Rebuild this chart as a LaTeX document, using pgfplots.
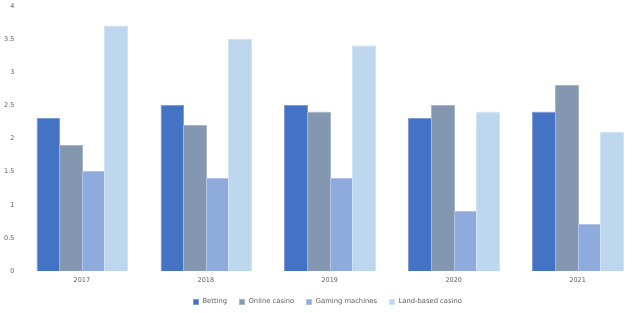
\documentclass[border=0pt]{standalone}
\usepackage{pgfplots}
\pgfplotsset{compat=1.18}
\usepackage{fontspec}
\setmainfont{DejaVu Sans}
\definecolor{cBet}{HTML}{4472C4}
\definecolor{cOnl}{HTML}{8497B0}
\definecolor{cGam}{HTML}{8FAADC}
\definecolor{cLand}{HTML}{BDD7EE}
\definecolor{txt}{HTML}{595959}
\begin{document}
\begin{tikzpicture}
\begin{axis}[
  at={(0,0)}, anchor=south west,
  scale only axis,
  width=616bp, height=265bp,
  xmin=-0.5, xmax=4.47,
  ymin=0, ymax=4,
  ybar=0pt,
  bar width=0.182,
  axis line style={draw=none},
  major tick length=0pt,
  xtick={0,1,2,3,4},
  xticklabels={2017,2018,2019,2020,2021},
  ytick={0,0.5,1,1.5,2,2.5,3,3.5,4},
  yticklabels={0,0.5,1,1.5,2,2.5,3,3.5,4},
  tick label style={font=\fontsize{6.5}{7}\selectfont, text=txt},
  yticklabel style={xshift=-2bp},
  xticklabel style={yshift=-3bp},
  legend style={draw=none, at={(0.5,-31bp)}, anchor=center,
    /tikz/every odd column/.append style={column sep=3bp},
    /tikz/every even column/.append style={column sep=10bp},
    font=\fontsize{6.8}{7}\selectfont, text=txt, inner sep=0pt,
    nodes={inner sep=1.5bp}},
  legend columns=4,
  legend image code/.code={\fill[#1] (0bp,-2.5bp) rectangle (5bp,2.5bp);},
]
\addplot[fill=cBet, draw=cBet!70!white, line width=0.5pt] coordinates {(0,2.3) (1,2.5) (2,2.5) (3,2.3) (4,2.4)};
\addplot[fill=cOnl, draw=cOnl!70!white, line width=0.5pt] coordinates {(0,1.9) (1,2.2) (2,2.4) (3,2.5) (4,2.8)};
\addplot[fill=cGam, draw=cGam!70!white, line width=0.5pt] coordinates {(0,1.5) (1,1.4) (2,1.4) (3,0.9) (4,0.7)};
\addplot[fill=cLand, draw=cLand!70!white, line width=0.5pt] coordinates {(0,3.7) (1,3.5) (2,3.4) (3,2.4) (4,2.1)};
\legend{Betting, Online casino, Gaming machines, Land-based casino}
\end{axis}
\pgfresetboundingbox
\path (-20bp,-42bp) rectangle (616bp,271bp);
\end{tikzpicture}
\end{document}
